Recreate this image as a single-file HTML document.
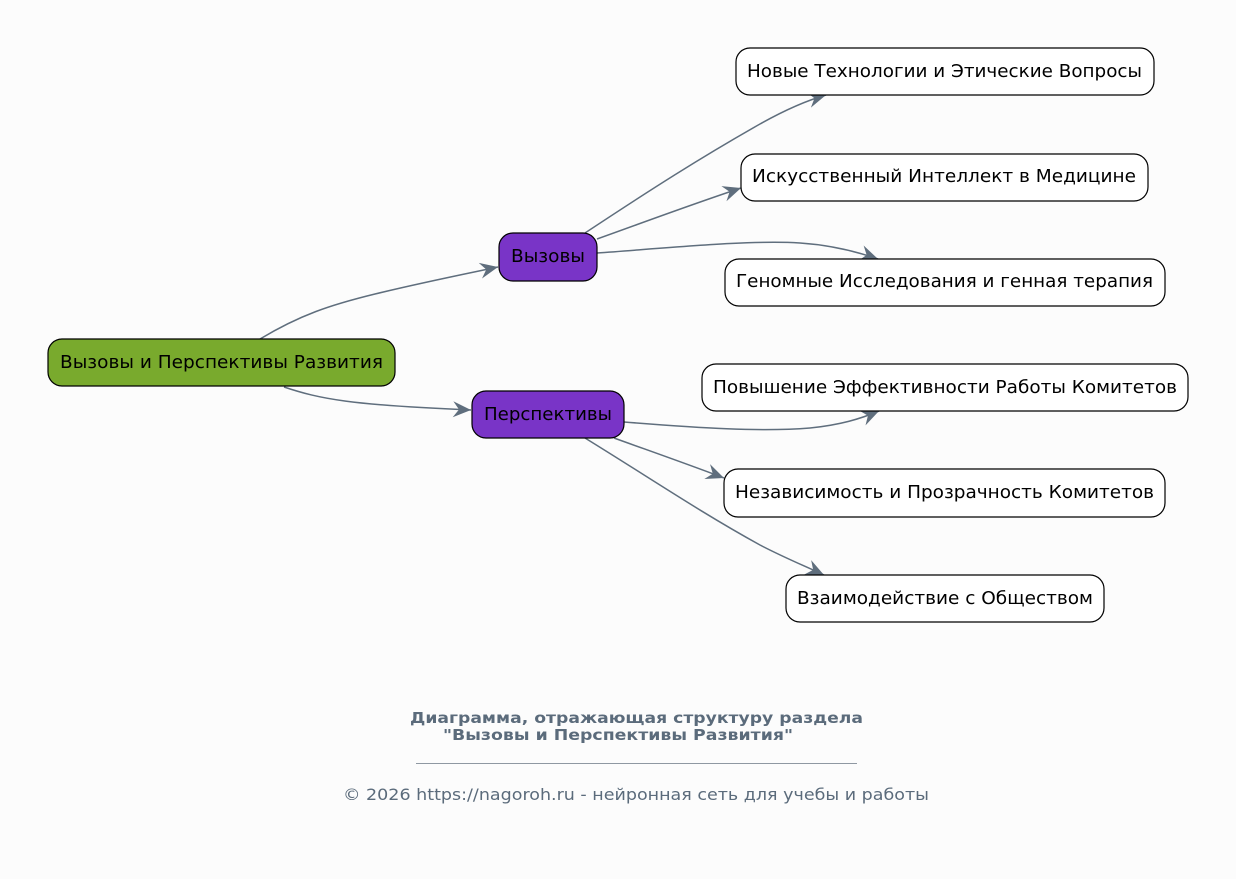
<!DOCTYPE html>
<html><head><meta charset="utf-8"><style>
html,body{margin:0;padding:0;background:#fcfcfc;}
svg{display:block;}
text{font-family:"DejaVu Sans","Liberation Sans",sans-serif;}
</style></head><body>
<svg width="1236" height="879" viewBox="0 0 1236 879" xmlns="http://www.w3.org/2000/svg">
<defs>
<marker id="a" markerUnits="userSpaceOnUse" markerWidth="20" markerHeight="18" viewBox="0 0 20 18" refX="18" refY="9" orient="auto">
<path d="M0,1 L18,9 L0,17 L6,9 Z" fill="#5f6e7d"/>
</marker>
</defs>
<rect width="1236" height="879" fill="#fcfcfc"/>
<g fill="none" stroke="#5f6e7d" stroke-width="1.5">
<path d="M260,339 C300,315 330,305 375,294 C420,283 460,275 498,267" marker-end="url(#a)"/>
<path d="M284,387 C320,399 350,405 471,410" marker-end="url(#a)"/>
<path d="M585,233 C650,190 700,158 760,124 C785,110 805,101 826,95" marker-end="url(#a)"/>
<path d="M597,239 C650,220 690,205 741,188" marker-end="url(#a)"/>
<path d="M597,253 C680,247 750,240 800,243 C830,245 855,251 878,259" marker-end="url(#a)"/>
<path d="M624,422 C700,428 760,432 810,428 C840,425 860,419 879,411" marker-end="url(#a)"/>
<path d="M614,438 C650,451 690,465 724,478" marker-end="url(#a)"/>
<path d="M585,438 C650,478 700,512 760,545 C785,558 805,566 824,575" marker-end="url(#a)"/>
</g>
<g stroke="#000" stroke-width="1.2">
<rect x="48" y="339" width="347" height="47" rx="14" fill="#79aa2d"/>
<rect x="499" y="233" width="98" height="48" rx="14" fill="#7934c7"/>
<rect x="472" y="391" width="152" height="47" rx="14" fill="#7934c7"/>
<rect x="736" y="48" width="418" height="47" rx="14" fill="#fff"/>
<rect x="741" y="154" width="407" height="47" rx="14" fill="#fff"/>
<rect x="725" y="259" width="440" height="47" rx="14" fill="#fff"/>
<rect x="702" y="364" width="486" height="47" rx="14" fill="#fff"/>
<rect x="724" y="469" width="441" height="48" rx="14" fill="#fff"/>
<rect x="786" y="575" width="318" height="47" rx="14" fill="#fff"/>
</g>
<g font-size="18" fill="#000" text-anchor="start">
<text x="60" y="368" textLength="323" lengthAdjust="spacingAndGlyphs">Вызовы и Перспективы Развития</text>
<text x="511" y="262" textLength="74" lengthAdjust="spacingAndGlyphs">Вызовы</text>
<text x="484" y="420" textLength="128" lengthAdjust="spacingAndGlyphs">Перспективы</text>
<text x="747" y="77" textLength="395" lengthAdjust="spacingAndGlyphs">Новые Технологии и Этические Вопросы</text>
<text x="752" y="182" textLength="384" lengthAdjust="spacingAndGlyphs">Искусственный Интеллект в Медицине</text>
<text x="736" y="287" textLength="417" lengthAdjust="spacingAndGlyphs">Геномные Исследования и генная терапия</text>
<text x="713" y="393" textLength="464" lengthAdjust="spacingAndGlyphs">Повышение Эффективности Работы Комитетов</text>
<text x="735" y="498" textLength="419" lengthAdjust="spacingAndGlyphs">Независимость и Прозрачность Комитетов</text>
<text x="797" y="604" textLength="296" lengthAdjust="spacingAndGlyphs">Взаимодействие с Обществом</text>
</g>
<g fill="#5b6b7b">
<text x="410" y="723" font-size="15" font-weight="bold" textLength="453" lengthAdjust="spacingAndGlyphs">Диаграмма, отражающая структуру раздела</text>
<text x="443" y="740" font-size="15" font-weight="bold" textLength="350" lengthAdjust="spacingAndGlyphs">"Вызовы и Перспективы Развития"</text>
<text x="343" y="800" font-size="16" textLength="586" lengthAdjust="spacingAndGlyphs">© 2026 https://nagoroh.ru - нейронная сеть для учебы и работы</text>
</g>
<line x1="416" y1="763.5" x2="857" y2="763.5" stroke="#6b7785" stroke-width="0.8"/>
</svg>
</body></html>
